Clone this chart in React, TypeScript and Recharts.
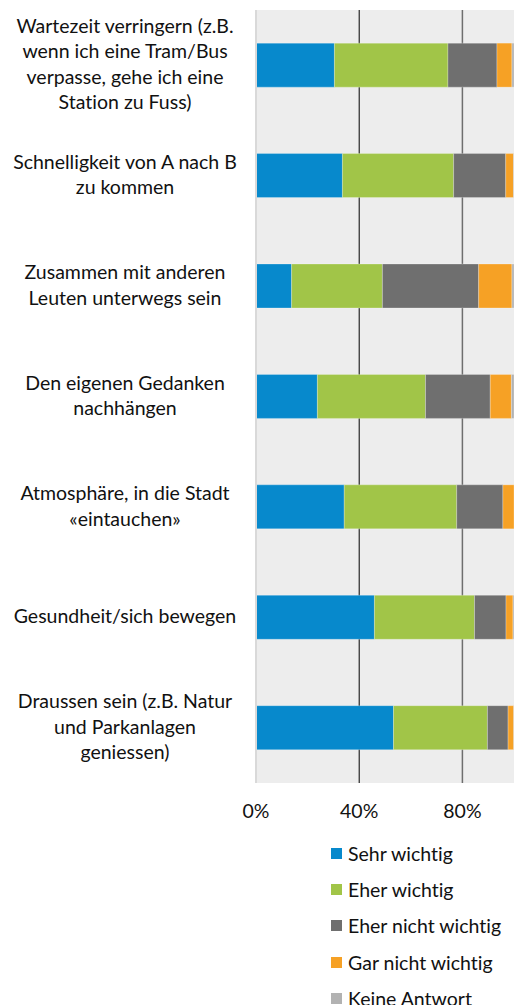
import React from 'react';
import {
  BarChart,
  Bar,
  XAxis,
  YAxis,
  CartesianGrid,
  Legend,
} from 'recharts';

const categories = [
  'Wartezeit verringern (z.B.\nwenn ich eine Tram/Bus\nverpasse, gehe ich eine\nStation zu Fuss)',
  'Schnelligkeit von A nach B\nzu kommen',
  'Zusammen mit anderen\nLeuten unterwegs sein',
  'Den eigenen Gedanken\nnachhängen',
  'Atmosphäre, in die Stadt\n«eintauchen»',
  'Gesundheit/sich bewegen',
  'Draussen sein (z.B. Natur\nund Parkanlagen\ngeniessen)',
];

const sehrWichtig = [30.4, 33.5, 13.8, 23.8, 34.2, 45.9, 53.3];
const eherWichtig = [44.0, 43.1, 35.2, 41.9, 43.6, 38.8, 36.4];
const eherNichtWichtig = [19.0, 20.2, 37.3, 25.1, 17.9, 12.2, 8.0];
const garNichtWichtig = [5.8, 3.0, 12.9, 8.2, 4.3, 2.7, 2.2];
const keineAntwort = [0.8, 0.2, 0.8, 1.0, 0.0, 0.4, 0.1];

const xTicks = [0, 40, 80];

const series = [
  { key: 'sehr', name: 'Sehr wichtig', color: '#0789cc' },
  { key: 'eher', name: 'Eher wichtig', color: '#a1c548' },
  { key: 'eherNicht', name: 'Eher nicht wichtig', color: '#6f6f6f' },
  { key: 'garNicht', name: 'Gar nicht wichtig', color: '#f6a125' },
  { key: 'keine', name: 'Keine Antwort', color: '#b2b2b2' },
];

const data = categories.map((label, i) => ({
  label,
  sehr: sehrWichtig[i],
  eher: eherWichtig[i],
  eherNicht: eherNichtWichtig[i],
  garNicht: garNichtWichtig[i],
  keine: keineAntwort[i],
}));

const FONT = 'Lato, "Open Sans", sans-serif';
const TEXT = '#111';

function CategoryTick({ y, payload }: { y?: number; payload?: { value: string } }) {
  const lines = (payload?.value ?? '').split('\n');
  const lineHeight = 25.5;
  const startDy = -((lines.length - 1) / 2) * lineHeight;
  return (
    <text
      x={125}
      y={y}
      textAnchor="middle"
      fontFamily={FONT}
      fontSize={19.5}
      fill={TEXT}
      style={{ fontVariantLigatures: 'none' }}
    >
      {lines.map((line, i) => (
        <tspan key={i} x={125} dy={i === 0 ? startDy + 6 : lineHeight}>
          {line}
        </tspan>
      ))}
    </text>
  );
}

function LegendList() {
  return (
    <div
      style={{
        fontFamily: FONT,
        fontSize: 19.5,
        color: TEXT,
        fontVariantLigatures: 'none',
      }}
    >
      {series.map((s) => (
        <div
          key={s.key}
          style={{ display: 'flex', alignItems: 'center', height: 36.3 }}
        >
          <span
            style={{
              display: 'inline-block',
              width: 11,
              height: 11,
              background: s.color,
              marginRight: 6,
            }}
          />
          <span>{s.name}</span>
        </div>
      ))}
    </div>
  );
}

export default function App() {
  return (
    <div style={{ position: 'absolute', left: 0, top: 0, background: '#fff' }}>
      <BarChart
        width={516}
        height={1005}
        data={data}
        layout="vertical"
        margin={{ top: 10, right: 2, left: 0, bottom: 182 }}
        barCategoryGap="30%"
      >
        <CartesianGrid fill="#ededed" horizontal={false} vertical={false} />
        <CartesianGrid
          horizontal={false}
          verticalValues={[40]}
          stroke="#000"
          strokeWidth={1}
        />
        <CartesianGrid
          horizontal={false}
          verticalValues={[80]}
          stroke="#6e6e6e"
          strokeWidth={1.5}
        />
        <XAxis
          type="number"
          domain={[0, 100]}
          allowDataOverflow
          ticks={xTicks}
          tickFormatter={(v: number) => `${v}%`}
          axisLine={false}
          tickLine={false}
          tickMargin={15}
          height={40}
          tick={{ fontFamily: FONT, fontSize: 19.5, fill: TEXT }}
        />
        <YAxis
          type="category"
          dataKey="label"
          width={256}
          axisLine={{ stroke: '#d9d9d9', strokeWidth: 2 }}
          tickLine={false}
          interval={0}
          tick={<CategoryTick />}
        />
        <Legend
          layout="vertical"
          align="center"
          verticalAlign="middle"
          wrapperStyle={{ left: 331, top: 835, width: 185 }}
          content={<LegendList />}
        />
        {series.map((s) => (
          <Bar
            key={s.key}
            dataKey={s.key}
            name={s.name}
            stackId="a"
            fill={s.color}
            stroke="#ffffff"
            strokeOpacity={0.5}
            strokeWidth={0.5}
            isAnimationActive={false}
          />
        ))}
      </BarChart>
    </div>
  );
}
